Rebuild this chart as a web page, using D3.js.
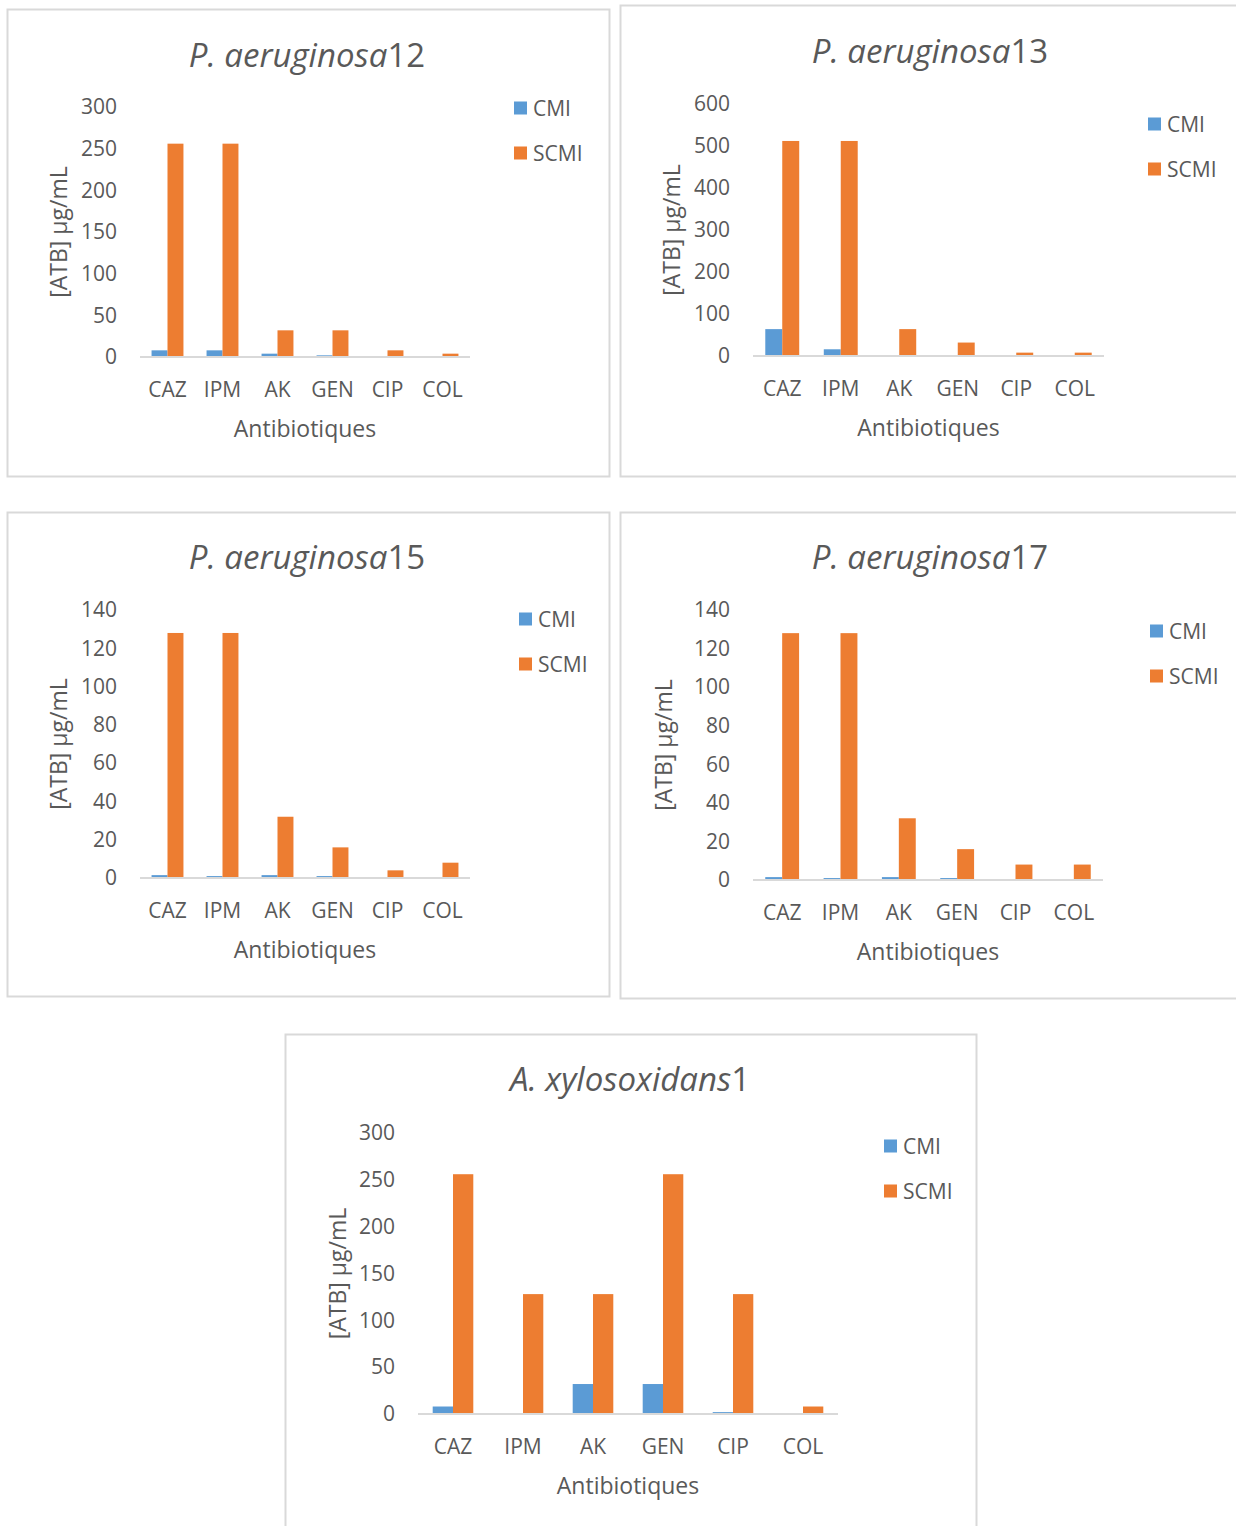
<!DOCTYPE html>
<html>
<head>
<meta charset="utf-8">
<script src="https://cdn.jsdelivr.net/npm/d3@7"></script>
<style>
  html, body { margin: 0; padding: 0; background: #fff; }
  svg { display: block; }
  text { font-family: "Open Sans", "Liberation Sans", sans-serif; fill: #595959; }
</style>
</head>
<body>
<svg id="fig" width="1236" height="1526"></svg>
<script>
// Antibiotics tested and the two measured concentrations
const categories = ["CAZ", "IPM", "AK", "GEN", "CIP", "COL"];
const seriesNames = ["CMI", "SCMI"];
const seriesColors = ["#5b9bd5", "#ed7d31"];

// Strain names (species in italics, isolate number upright)
const speciesNames = ["P. aeruginosa", "P. aeruginosa", "P. aeruginosa", "P. aeruginosa", "A. xylosoxidans"];
const isolateNumbers = ["12", "13", "15", "17", "1"];

// Concentrations in µg/mL per strain
const cmiPa12  = [8, 8, 4, 2, 0, 0];
const scmiPa12 = [256, 256, 32, 32, 8, 4];
const cmiPa13  = [64, 16, 0, 0, 0, 0];
const scmiPa13 = [512, 512, 64, 32, 8, 8];
const cmiPa15  = [1.5, 1, 1.5, 1, 0, 0];
const scmiPa15 = [128, 128, 32, 16, 4, 8];
const cmiPa17  = [1.5, 1, 1.5, 1, 0, 0.5];
const scmiPa17 = [128, 128, 32, 16, 8, 8];
const cmiAx1   = [8, 1, 32, 32, 2, 0];
const scmiAx1  = [256, 128, 128, 256, 128, 8];

// Value axis ticks per strain
const axisMax  = [300, 600, 140, 140, 300];
const axisStep = [50, 100, 20, 20, 50];

const yAxisTitle = "[ATB] µg/mL";
const xAxisTitle = "Antibiotiques";

const seriesByPanel = [
  [cmiPa12, scmiPa12],
  [cmiPa13, scmiPa13],
  [cmiPa15, scmiPa15],
  [cmiPa17, scmiPa17],
  [cmiAx1, scmiAx1]
];

// Panel frames and plot areas on the page
const layout = [
  { frame: [7, 9, 602, 467],   titleX: 307, titleY: 54,   plot: [140, 107, 470, 357],   yTitleX: 58,  legendX: 514,  legendY: 108 },
  { frame: [620, 5, 640, 471], titleX: 930, titleY: 50,   plot: [753, 104, 1104, 356],  yTitleX: 671, legendX: 1148, legendY: 124 },
  { frame: [7, 512, 602, 484], titleX: 307, titleY: 556,  plot: [140, 610, 470, 878],   yTitleX: 58,  legendX: 519,  legendY: 619 },
  { frame: [620, 512, 640, 486], titleX: 930, titleY: 556, plot: [753, 610, 1103, 880],  yTitleX: 663, legendX: 1150, legendY: 631 },
  { frame: [285, 1034, 691, 520], titleX: 630, titleY: 1078, plot: [418, 1133, 838, 1414], yTitleX: 337, legendX: 884, legendY: 1146 }
];

const svg = d3.select("#fig");

function drawPanel(i) {
  const L = layout[i];
  const [fx, fy, fw, fh] = L.frame;
  const [x0, yTop, x1, yBase] = L.plot;
  const g = svg.append("g");

  g.append("rect")
    .attr("x", fx + 0.5).attr("y", fy + 0.5)
    .attr("width", fw).attr("height", fh)
    .attr("fill", "#fff").attr("stroke", "#d9d9d9").attr("stroke-width", 2);

  // Title
  const t = g.append("text")
    .attr("x", L.titleX).attr("y", L.titleY)
    .attr("text-anchor", "middle").attr("dominant-baseline", "central")
    .attr("font-size", 33);
  t.append("tspan").attr("font-style", "italic").text(speciesNames[i]);
  t.append("tspan").text(isolateNumbers[i]);

  const x = d3.scaleBand().domain(categories).range([x0, x1])
    .paddingInner(0.42).paddingOuter(0.21);
  const xs = d3.scaleBand().domain(seriesNames).range([0, x.bandwidth()]);
  const y = d3.scaleLinear().domain([0, axisMax[i]]).range([yBase, yTop]);

  // Value axis labels (no line, no tick marks)
  const yAxis = d3.axisLeft(y)
    .tickValues(d3.range(0, axisMax[i] + 1, axisStep[i]))
    .tickSize(0).tickPadding(23);
  const ya = g.append("g").attr("transform", `translate(${x0},0)`).call(yAxis);
  ya.select(".domain").remove();
  ya.selectAll("text").attr("font-size", 21).attr("fill", "#595959")
    .style("font-family", '"Open Sans", sans-serif');

  // Bars
  seriesNames.forEach((s, si) => {
    g.append("g").selectAll("rect")
      .data(seriesByPanel[i][si])
      .join("rect")
      .attr("x", (d, k) => x(categories[k]) + xs(s))
      .attr("width", xs.bandwidth())
      .attr("y", d => y(d))
      .attr("height", d => yBase - y(d))
      .attr("fill", seriesColors[si]);
  });

  // Category axis
  const xAxis = d3.axisBottom(x).tickSize(0).tickPadding(25);
  const xa = g.append("g").attr("transform", `translate(0,${yBase})`).call(xAxis);
  xa.select(".domain").attr("stroke", "#d9d9d9").attr("stroke-width", 2)
    .attr("d", `M${x0},0H${x1}`);
  xa.selectAll("text").attr("font-size", 21).attr("fill", "#595959")
    .style("font-family", '"Open Sans", sans-serif');

  // Axis titles
  g.append("text")
    .attr("x", (x0 + x1) / 2).attr("y", yBase + 71)
    .attr("text-anchor", "middle").attr("dominant-baseline", "central")
    .attr("font-size", 23).text(xAxisTitle);
  g.append("text")
    .attr("transform", `translate(${L.yTitleX},${(yTop + yBase) / 2}) rotate(-90)`)
    .attr("text-anchor", "middle").attr("dominant-baseline", "central")
    .attr("font-size", 23).text(yAxisTitle);

  // Legend
  seriesNames.forEach((s, si) => {
    const ly = L.legendY + si * 45;
    g.append("rect")
      .attr("x", L.legendX).attr("y", ly - 6.5)
      .attr("width", 13).attr("height", 13)
      .attr("fill", seriesColors[si]);
    g.append("text")
      .attr("x", L.legendX + 19).attr("y", ly)
      .attr("dominant-baseline", "central")
      .attr("font-size", 21).text(s);
  });
}

layout.forEach((_, i) => drawPanel(i));
</script>
</body>
</html>
